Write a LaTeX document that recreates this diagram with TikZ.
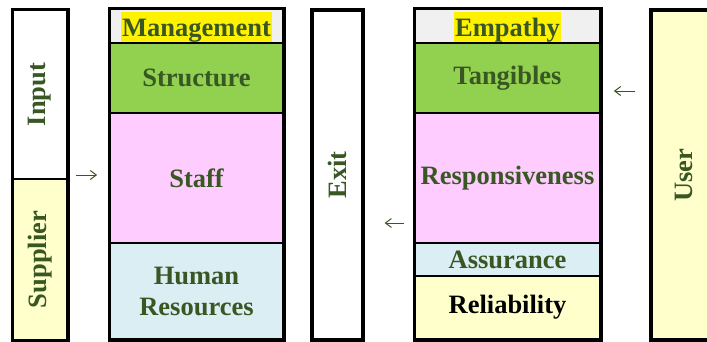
\documentclass[tikz,border=0pt]{standalone}
\usepackage{fontspec}
\setmainfont{Liberation Serif}
\usetikzlibrary{arrows.meta}

\definecolor{txtgreen}{RGB}{56,87,35}
\definecolor{hdrgray}{RGB}{240,240,240}
\definecolor{lgreen}{RGB}{146,208,80}
\definecolor{lpink}{RGB}{255,204,255}
\definecolor{lblue}{RGB}{218,238,243}
\definecolor{lyellow}{RGB}{255,255,204}

\tikzset{
  cell/.style={draw, line width=1.8pt, inner sep=0pt, align=center,
    text=txtgreen, font=\bfseries\fontsize{26.5}{31}\selectfont},
  frame/.style={draw, line width=3.2pt},
  mark box/.style={fill=yellow, inner xsep=1pt, inner ysep=1pt, text height=23pt, text depth=5pt,
    text=txtgreen, font=\bfseries\fontsize{26.5}{31}\selectfont},
  flow/.style={-{Straight Barb[length=6pt,width=9pt]}, txtgreen, line width=1pt},
}

\begin{document}
\begin{tikzpicture}[x=1pt,y=-1pt]
  \useasboundingbox (0,0) rectangle (707,341);

  % supplier column
  \node[cell, minimum width=54pt, minimum height=169pt] (input) at (40,94.5) {\rotatebox{90}{Input}};
  \node[cell, fill=lyellow, minimum width=54pt, minimum height=161pt] (supplier) at (40,259.5) {\rotatebox{90}{Supplier}};
  \draw[frame] (input.north west) rectangle (supplier.south east);

  % management column
  \node[cell, fill=hdrgray, minimum width=173pt, minimum height=34pt] (mgmt) at (196.5,26) {};
  \node[mark box] at (196.5,27) {Management};
  \node[cell, fill=lgreen, minimum width=173pt, minimum height=70pt] (struct) at (196.5,78) {Structure};
  \node[cell, fill=lpink, minimum width=173pt, minimum height=130pt] (staff) at (196.5,178) {Staff};
  \node[cell, fill=lblue, minimum width=173pt, minimum height=96pt] (hr) at (196.5,291) {Human\\Resources};
  \draw[frame] (mgmt.north west) rectangle (hr.south east);

  % exit column
  \node[cell, frame, minimum width=51pt, minimum height=330pt] (exit) at (337.5,175) {\rotatebox{90}{Exit}};

  % quality column
  \node[cell, fill=hdrgray, minimum width=185pt, minimum height=34pt] (empathy) at (507.5,26) {};
  \node[mark box] at (507.5,27) {Empathy};
  \node[cell, fill=lgreen, minimum width=185pt, minimum height=70pt] (tang) at (507.5,78) {Tangibles};
  \node[cell, fill=lpink, minimum width=185pt, minimum height=130pt] (resp) at (507.5,178) {Responsiveness};
  \node[cell, fill=lblue, minimum width=185pt, minimum height=33pt] (assur) at (507.5,259.5) {Assurance};
  \node[cell, fill=lyellow, text=black, minimum width=185pt, minimum height=63pt] (relia) at (507.5,307.5) {Reliability};
  \draw[frame] (empathy.north west) rectangle (relia.south east);

  % user column
  \node[cell, frame, fill=lyellow, minimum width=66pt, minimum height=330pt] (user) at (684,175) {\rotatebox{90}{User}};

  % arrows
  \draw[flow, shorten <=8pt, shorten >=12pt] (input.east |- 0,175) -- (staff.west |- 0,175);
  \draw[flow, shorten <=10pt, shorten >=20pt] (resp.west |- 0,223) -- (exit.east |- 0,223);
  \draw[flow, shorten <=14pt, shorten >=13pt] (user.west |- 0,91) -- (tang.east |- 0,91);
\end{tikzpicture}
\end{document}
